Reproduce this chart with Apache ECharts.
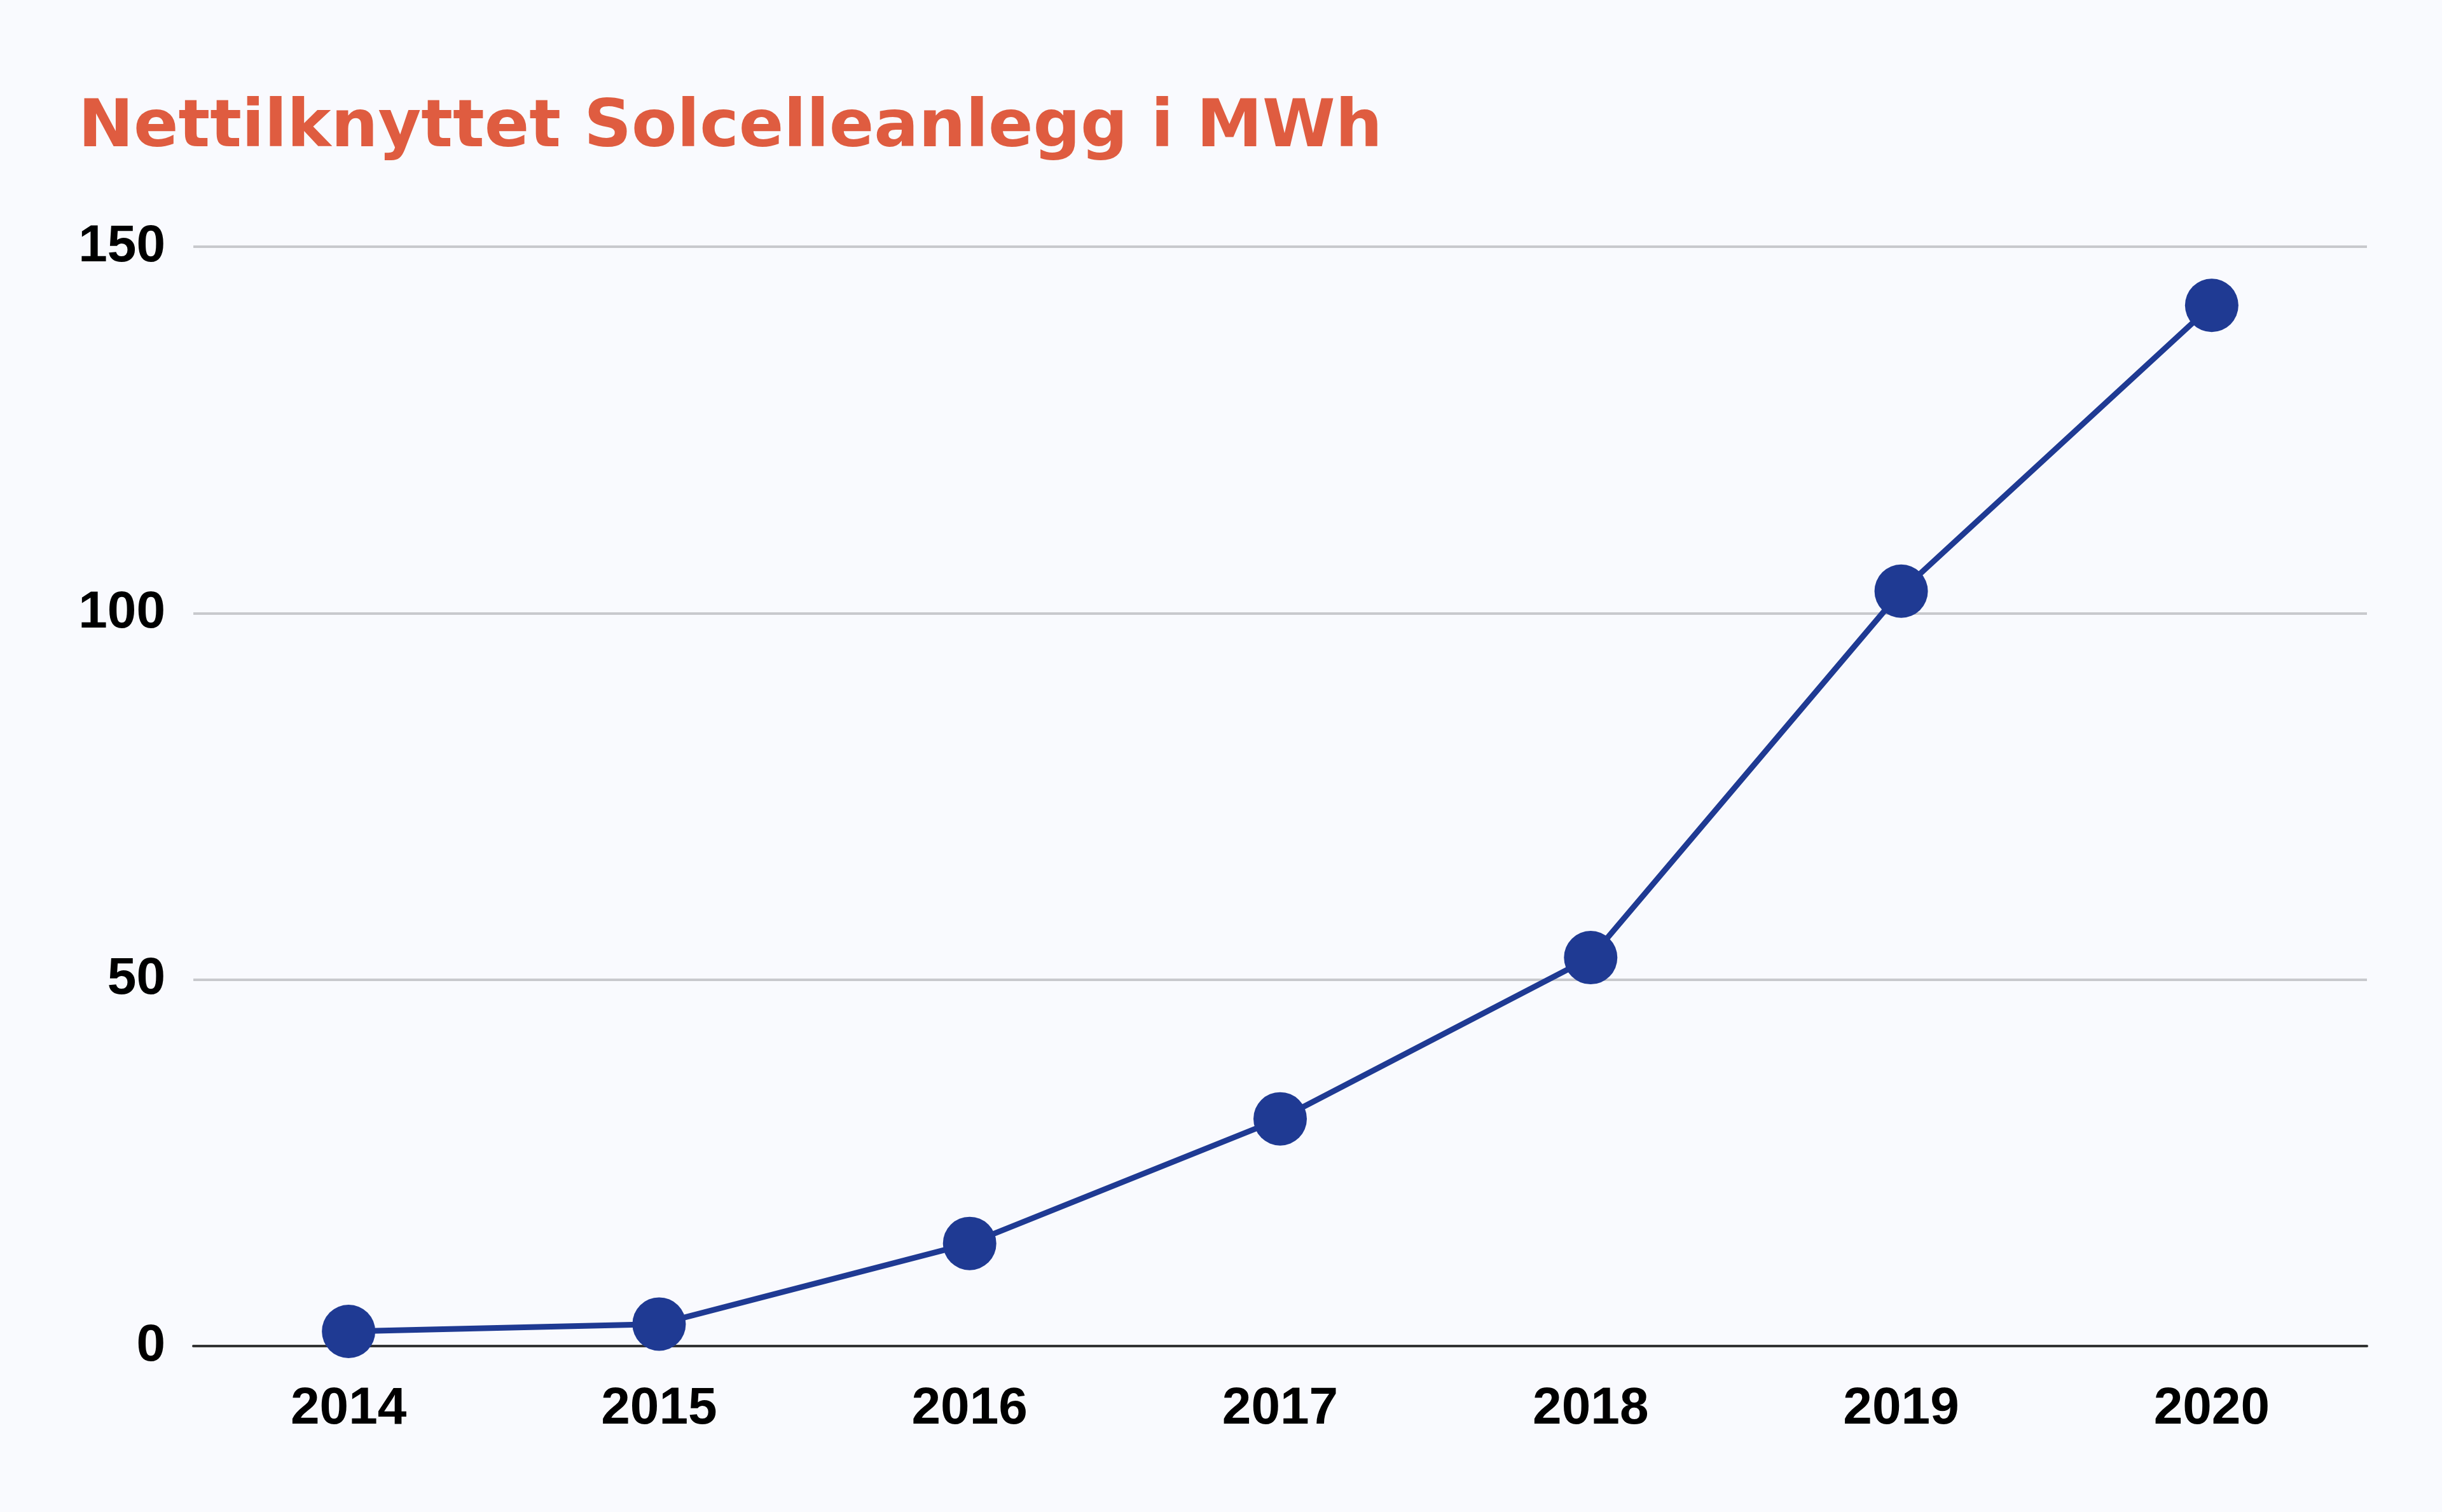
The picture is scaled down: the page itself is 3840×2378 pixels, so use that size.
<!DOCTYPE html>
<html>
<head>
<meta charset="utf-8">
<script src="https://cdn.jsdelivr.net/npm/echarts@6/dist/echarts.min.js"></script>
<style>
html,body{margin:0;padding:0;background:#f9fafe;}
#chart{width:3840px;height:2378px;}
</style>
</head>
<body>
<div id="chart"></div>
<script>
const titleText = "Nettilknyttet Solcelleanlegg i MWh";
const years = ["2014","2015","2016","2017","2018","2019","2020"];
const values = [2, 3, 14, 31, 53, 103, 142];
const yTicks = { min: 0, max: 150, interval: 50 };

const chart = echarts.init(document.getElementById('chart'));
chart.setOption({
  backgroundColor: '#f9fafe',
  animation: false,
  title: {
    text: titleText,
    left: 118,
    top: 146,
    textStyle: {
      fontFamily: 'DejaVu Sans',
      fontWeight: 'bold',
      fontSize: 104,
      color: '#df5c40'
    }
  },
  grid: { left: 304, right: 118, top: 388, bottom: 261, containLabel: false },
  xAxis: {
    type: 'category',
    data: years,
    boundaryGap: true,
    axisLine: { show: true, lineStyle: { color: '#333333', width: 4 } },
    axisTick: { show: false },
    axisLabel: {
      margin: 58,
      fontFamily: 'Liberation Sans',
      fontWeight: 'bold',
      fontSize: 82,
      color: '#000000'
    }
  },
  yAxis: {
    type: 'value',
    min: yTicks.min,
    max: yTicks.max,
    interval: yTicks.interval,
    axisLine: { show: false },
    axisTick: { show: false },
    splitLine: { show: true, lineStyle: { color: '#c8c9cd', width: 4 } },
    axisLabel: {
      margin: 44,
      fontFamily: 'Liberation Sans',
      fontWeight: 'bold',
      fontSize: 82,
      color: '#000000'
    }
  },
  series: [{
    type: 'line',
    data: values,
    symbol: 'circle',
    symbolSize: 84,
    lineStyle: { color: '#1f3a93', width: 9 },
    itemStyle: { color: '#1f3a93' },
    z: 3
  }]
});
</script>
</body>
</html>
